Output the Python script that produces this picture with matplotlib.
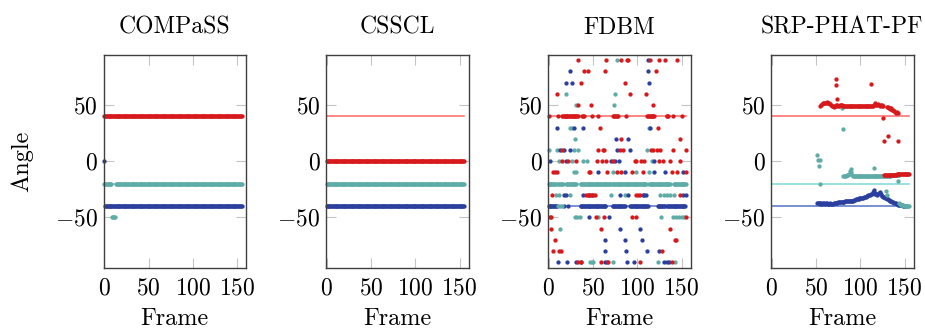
#! /usr/bin/env python3
# coding: utf-8

import matplotlib
matplotlib.use('Agg')
import matplotlib.pyplot as plt
import numpy as np

plt.rcParams['font.family'] = ['cmr10', 'DejaVu Serif']
plt.rcParams['mathtext.fontset'] = 'cm'
plt.rcParams['axes.formatter.use_mathtext'] = True

titles = ['COMPaSS', 'CSSCL', 'FDBM', 'SRP-PHAT-PF']
n_frames = 156
truth_red, truth_teal, truth_blue = 40, -20, -40
x_ticks = [0, 50, 100, 150]
y_ticks = [-50, 0, 50]

RED = '#d7191c'
TEAL = '#5eaca7'
BLUE = '#2b3f9e'
GT_RED = '#ff6464'
GT_TEAL = '#7fd8d8'
GT_BLUE = '#5572c8'

# runs of consecutive frames: (first frame, last frame, angle)
compass_red = [(0, 155, 40)]
compass_teal = [(0, 8, -20), (13, 155, -20), (9, 12, -50)]
compass_blue = [(0, 0, 0), (1, 155, -40)]

csscl_red = [(0, 155, 0)]
csscl_teal = [(0, 155, -20)]
csscl_blue = [(0, 155, -40)]

# FDBM: angle level -> frames with a detection
fdbm_red = {
    90: [33, 65, 82, 88, 90, 114, 125, 131, 145],
    80: [40, 44, 64, 121],
    70: [36, 86],
    60: [9, 92, 110],
    50: [33, 48, 118],
    30: [58, 123],
    20: [82, 148],
    10: [15, 56, 61, 62, 80, 84, 115, 118, 122, 126, 140, 155],
    0: [15, 22, 31, 55, 60, 65, 72, 97, 99, 104, 107, 125, 129, 137, 148],
    -10: [5, 7, 9, 45, 47, 66, 77, 82, 94, 106, 139, 145, 155],
    -30: [4, 42, 44, 46, 48, 50, 52, 99, 101, 103, 148],
    -50: [1, 3, 53, 62, 94, 99, 155],
    -60: [3, 59, 137],
    -70: [7, 142, 144],
    -80: [5, 12, 14, 128],
    -90: [33, 36, 59, 67, 103, 139],
}
fdbm_teal = {
    90: [77],
    60: [19, 75],
    50: [31, 74],
    30: [24, 26, 113],
    20: [30],
    10: [0, 9, 29, 33, 111],
    0: [12, 26, 39, 43, 116],
    -10: [29, 31, 72, 98, 113],
    -30: [8, 12, 24, 70, 86, 126, 130, 134, 137, 141],
    -40: [11, 13, 15],
    -50: [30, 32, 35, 56, 127, 140, 144, 147, 150, 153],
    -60: [13],
    -90: [47, 49, 50, 72, 123, 143],
}
fdbm_blue = {
    90: [112],
    80: [24, 112],
    70: [19, 26, 113],
    30: [9, 28, 39, 114],
    20: [76, 90],
    10: [13, 17, 24, 77, 92],
    0: [1, 19, 70, 75, 79, 119],
    -10: [56, 86, 119, 131, 151],
    -30: [17, 20, 39, 45, 49, 80, 89, 106, 108, 110, 152, 155],
    -50: [45, 68],
    -60: [81, 103],
    -70: [63, 86, 105],
    -80: [64, 87, 111, 124],
    -90: [10, 21, 31, 36, 64, 66, 88, 96, 130, 133, 136],
}
fdbm_red_runs = [(0, 0, 40), (10, 10, 40), (15, 33, 40), (38, 40, 40), (49, 49, 40),
                 (56, 56, 40), (73, 78, 40), (87, 87, 40), (111, 119, 40),
                 (133, 135, 40), (140, 140, 40), (150, 150, 40)]
fdbm_teal_runs = [(0, 8, -20), (11, 16, -20), (20, 31, -20), (36, 70, -20),
                  (72, 110, -20), (113, 137, -20), (141, 155, -20)]
fdbm_blue_runs = [(0, 9, -40), (17, 17, -40), (22, 22, -40), (36, 64, -40),
                  (72, 86, -40), (92, 112, -40), (123, 131, -40), (134, 154, -40)]

# SRP-PHAT-PF tracks: first frame, then one angle per frame
srp_red_a_start = 55
srp_red_a = [49, 50, 51, 51.5, 51.5, 52, 52, 52.5, 52, 52,
             51.5, 51, 50, 49.5, 49, 48.5, 49, 49.5, 50, 50,
             49.5, 49.5, 50, 50, 50, 49.5, 49.5, 49.5, 49, 49,
             49, 49, 49, 49, 49, 49, 49, 49, 49, 48.8,
             48.8, 48.8, 48.8, 49, 49, 49, 49, 49, 49, 49,
             49, 49, 49, 49, 49, 49, 49, 49, 49.5, 49.5,
             50, 51, 51.5, 50, 50.5, 51, 50, 49.5, 50, 50,
             49.5, 49]
srp_red_b_start = 130
srp_red_b = [48.5, 48, 47.5, 47, 46.5, 47, 46, 45.5, 45, 44, 43, 43.5, 42.5]
srp_red_c_start = 127
srp_red_c = [-12.5, -12.5, -12, -12.5, -12.5, -12, -12, -12.5, -12, -12,
             -12, -12, -12, -12, -11.5, -11.5, -11.5, -11.5, -11.5, -11.5,
             -11.5, -11.5, -11.5, -11.5, -11.5, -11.5, -11.5, -11.5, -11.5]
srp_red_out_f = [72, 73, 74, 112, 126, 127, 131, 143]
srp_red_out_a = [73.5, 68, 55.7, 68.5, 38.9, 18, 22.5, 17.6]

srp_teal_a_start = 81
srp_teal_a = [-13, -13, -13.5, -13, -12.5, -12, -11, -9, -7, -10,
              -12.5, -13, -13.5, -13.5, -13.5, -13.5, -13.5, -13.5, -13.5, -13.5,
              -13.5, -13.5, -13.5, -13.5, -13.5, -13.5, -13.5, -13.5, -13.5, -13.5,
              -13.5, -13.5, -13.5, -13.5, -13.5, -13, -13, -13, -13, -13,
              -13, -13, -13, -13, -13, -13, -13, -13, -13, -13,
              -13, -13, -13, -13, -12.5, -12.5, -12.5, -12.5, -12.5, -12.5,
              -12.5, -12.5, -12.5, -12.5]
srp_teal_b_start = 144
srp_teal_b = [-37.5, -38, -38.5, -39, -39, -39.5, -39.5, -39.5, -40, -40, -40, -40]
srp_teal_out_f = [51, 52, 54, 53, 54, 79, 80, 115, 129, 130, 143]
srp_teal_out_a = [6, 1, 1, -4, -20, 47, 28.5, -6, -26.5, -30, -18]

srp_blue_start = 51
srp_blue = [-37, -37.5, -37.5, -38, -37.5, -37.5, -38, -37.5, -37.5, -38,
            -37.5, -37.5, -38, -38, -38, -37.5, -38, -38, -38, -37.5,
            -37.5, -37, -37, -37, -36.5, -36.5, -36.5, -36, -36, -36,
            -36, -36, -35.5, -35.5, -35.5, -35, -35, -35, -35.5, -35.5,
            -35, -35, -34.5, -34.5, -34, -34, -33.5, -33.5, -33, -33,
            -33, -32.5, -32.5, -32, -31.5, -31.5, -31, -30.5, -30, -30,
            -30, -29.5, -29, -27, -26, -28, -29, -29.5, -30, -29.5,
            -28, -27.5, -29, -30.5, -31, -31.5, -32, -32.5, -33, -33.5,
            -34, -34.5, -35, -35.5, -35.5, -36, -36.5, -37, -37, -37.5,
            -38, -38, -38.5, -38.5, -39, -39, -39, -39.5, -39.5, -39.5]


def from_runs(runs):
    f, a = [], []
    for first, last, angle in runs:
        for k in range(first, last + 1):
            f.append(k)
            a.append(angle)
    return f, a


def from_levels(levels):
    f, a = [], []
    for angle, frames in levels.items():
        f += frames
        a += [angle] * len(frames)
    return f, a


def from_track(start, values):
    return [start + i for i in range(len(values))], values


def dots(ax, pts, color):
    ax.plot(pts[0], pts[1], 'o', ms=3.1, mew=0, color=color, zorder=3, clip_on=False)


def truth(ax):
    for angle, color in [(truth_red, GT_RED), (truth_teal, GT_TEAL), (truth_blue, GT_BLUE)]:
        ax.plot([0, n_frames - 1], [angle, angle], color=color, lw=1.1, zorder=2)


fig = plt.figure(figsize=(9.25, 3.29), dpi=100)
lefts = [103.5, 326, 548, 771]
axes = [fig.add_axes([l / 925, 61 / 329, 142.5 / 925, 213.5 / 329]) for l in lefts]

# COMPaSS
ax = axes[0]
truth(ax)
dots(ax, from_runs(compass_blue), BLUE)
dots(ax, from_runs(compass_teal), TEAL)
dots(ax, from_runs(compass_red), RED)

# CSSCL
ax = axes[1]
truth(ax)
dots(ax, from_runs(csscl_blue), BLUE)
dots(ax, from_runs(csscl_teal), TEAL)
dots(ax, from_runs(csscl_red), RED)

# FDBM
ax = axes[2]
truth(ax)
dots(ax, from_runs(fdbm_teal_runs), TEAL)
dots(ax, from_runs(fdbm_blue_runs), BLUE)
dots(ax, from_runs(fdbm_red_runs), RED)
dots(ax, from_levels(fdbm_teal), TEAL)
dots(ax, from_levels(fdbm_blue), BLUE)
dots(ax, from_levels(fdbm_red), RED)

# SRP-PHAT-PF
ax = axes[3]
truth(ax)
dots(ax, from_track(srp_blue_start, srp_blue), BLUE)
dots(ax, from_track(srp_teal_a_start, srp_teal_a), TEAL)
dots(ax, from_track(srp_teal_b_start, srp_teal_b), TEAL)
dots(ax, (srp_teal_out_f, srp_teal_out_a), TEAL)
dots(ax, from_track(srp_red_a_start, srp_red_a), RED)
dots(ax, from_track(srp_red_b_start, srp_red_b), RED)
dots(ax, from_track(srp_red_c_start, srp_red_c), RED)
dots(ax, (srp_red_out_f, srp_red_out_a), RED)

for ax, title in zip(axes, titles):
    ax.set_xlim(-0.8, 160)
    ax.set_ylim(-95, 95)
    ax.set_xticks(x_ticks)
    ax.set_yticks(y_ticks)
    ax.tick_params(direction='in', length=7.5, width=0.8, color='#c4c4c4',
                   top=True, right=True, labelsize=17)
    ax.tick_params(axis='x', pad=7)
    ax.tick_params(axis='y', pad=4)
    for s in ax.spines.values():
        s.set_color('#404040')
        s.set_linewidth(1.0)
        s.set_zorder(4)
    ax.set_title(title, fontsize=17, pad=15)
    ax.set_xlabel('Frame', fontsize=17.5)
    ax.xaxis.set_label_coords(0.5, (268 - 319) / 213.5)
    ax.xaxis.label.set_va('center')

axes[0].set_ylabel('Angle', fontsize=17.5)
axes[0].yaxis.set_label_coords((22 - 103.5) / 142.5, 0.5)
axes[0].yaxis.label.set_va('center')

fig.savefig('out.png', dpi=100)
